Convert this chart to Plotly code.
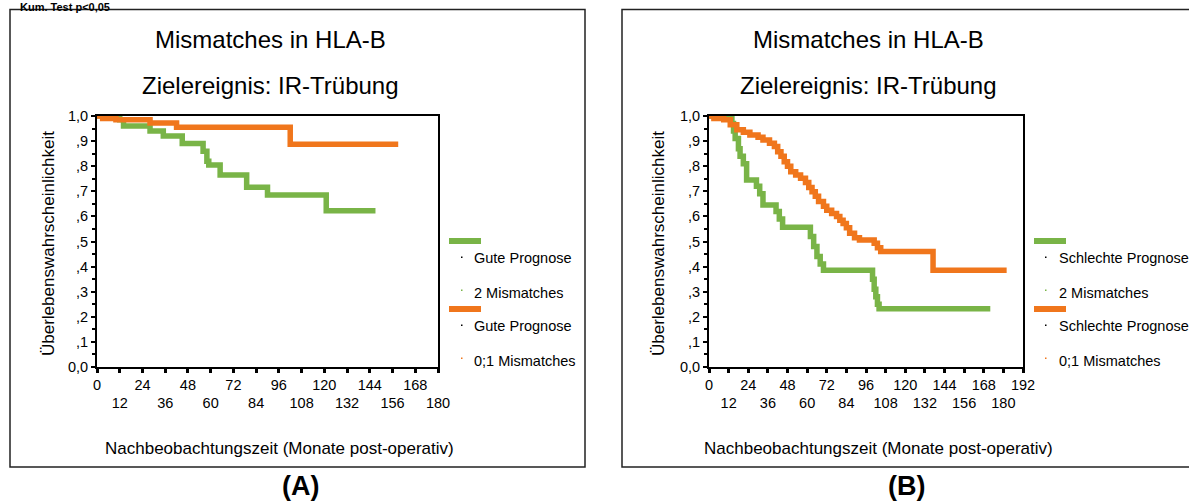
import plotly.graph_objects as go

# ---------------- data ----------------
# Panel A (Gute Prognose)
a_green_t = [0, 12, 14, 28, 35, 45, 56, 58, 59, 65, 79, 90, 121, 147]
a_green_s = [1.0, 0.985, 0.96, 0.94, 0.92, 0.89, 0.86, 0.82, 0.805, 0.765, 0.716, 0.685, 0.623, 0.623]
a_orange_t = [0, 3, 10, 28, 42, 102, 159]
a_orange_s = [1.0, 0.99, 0.985, 0.972, 0.955, 0.887, 0.887]

# Panel B (Schlechte Prognose)
b_green_t = [0, 14, 15, 16, 18, 19, 21, 23, 29, 31, 33, 41, 43, 45, 62, 64, 66, 68, 70, 100,
             101, 102, 103, 104, 172]
b_green_s = [1.0, 0.97, 0.94, 0.91, 0.87, 0.84, 0.81, 0.745, 0.72, 0.69, 0.645, 0.62, 0.59, 0.557,
             0.52, 0.48, 0.44, 0.41, 0.385, 0.35, 0.31, 0.28, 0.25, 0.232, 0.232]
b_orange_t = [0, 3, 9, 13, 17, 21, 25, 30, 33, 37, 40, 42, 44, 46, 48, 50, 53, 56, 59, 61,
              63, 65, 67, 70, 72, 75, 78, 80, 82, 84, 86, 89, 92, 101, 103, 105, 137, 182]
b_orange_s = [1.0, 0.99, 0.985, 0.965, 0.945, 0.935, 0.924, 0.915, 0.904, 0.891,
              0.878, 0.858, 0.84, 0.818, 0.80, 0.778, 0.765, 0.752, 0.735, 0.715,
              0.698, 0.68, 0.659, 0.64, 0.625, 0.612, 0.60, 0.585, 0.572, 0.555,
              0.533, 0.515, 0.506, 0.493, 0.475, 0.46, 0.385, 0.385]

a_ticks_top = [0, 24, 48, 72, 96, 120, 144, 168]
a_ticks_bottom = [12, 36, 60, 84, 108, 132, 156, 180]
b_ticks_top = [0, 24, 48, 72, 96, 120, 144, 168, 192]
b_ticks_bottom = [12, 36, 60, 84, 108, 132, 156, 180]
y_tickvals = [0, 0.1, 0.2, 0.3, 0.4, 0.5, 0.6, 0.7, 0.8, 0.9, 1.0]
y_ticktext = ["0,0", ",1", ",2", ",3", ",4", ",5", ",6", ",7", ",8", ",9", "1,0"]

heading = "Kum. Test p<0,05"
title1 = "Mismatches in HLA-B"
title2 = "Zielereignis: IR-Trübung"
x_title = "Nachbeobachtungszeit (Monate post-operativ)"
y_title = "Überlebenswahrscheinlichkeit"
a_legend = ["Gute Prognose", "2 Mismatches", "Gute Prognose", "0;1 Mismatches"]
b_legend = ["Schlechte Prognose", "2 Mismatches", "Schlechte Prognose", "0;1 Mismatches"]
panel_labels = ["(A)", "(B)"]

GREEN = "#79B447"
ORANGE = "#F0761C"
FONT = "Arial, Liberation Sans, sans-serif"

W, H = 1189, 504


def px(x):
    return x / W


def py(y):
    return 1 - y / H


fig = go.Figure()

for t, s, col, xa in [(a_green_t, a_green_s, GREEN, "x"), (a_orange_t, a_orange_s, ORANGE, "x"),
                      (b_green_t, b_green_s, GREEN, "x2"), (b_orange_t, b_orange_s, ORANGE, "x2")]:
    ya = "y" if xa == "x" else "y2"
    fig.add_trace(go.Scatter(x=t, y=s, mode="lines", line=dict(color=col, width=5.5, shape="hv"),
                             xaxis=xa, yaxis=ya, showlegend=False, hoverinfo="skip"))

# empty traces to bind the overlay axes (second row of x tick labels)
fig.add_trace(go.Scatter(x=[None], y=[None], xaxis="x3", yaxis="y", showlegend=False, hoverinfo="skip"))
fig.add_trace(go.Scatter(x=[None], y=[None], xaxis="x4", yaxis="y2", showlegend=False, hoverinfo="skip"))

tickfont = dict(family=FONT, size=14.5, color="black")


def xaxis_main(domain, rng, vals_top, vals_all, anchor):
    return dict(domain=domain, range=rng, anchor=anchor, automargin=False,
                tickmode="array", tickvals=vals_all,
                ticktext=[str(v) if v in vals_top else "" for v in vals_all],
                ticks="outside", ticklen=4, tickwidth=3, tickcolor="black",
                showline=True, linecolor="black", linewidth=2, mirror=True,
                showgrid=False, zeroline=False, tickfont=tickfont, fixedrange=True)


def xaxis_over(domain, rng, vals_bottom, over, anchor):
    return dict(domain=domain, range=rng, anchor=anchor, overlaying=over, side="bottom",
                automargin=False,
                tickmode="array", tickvals=vals_bottom, ticktext=[str(v) for v in vals_bottom],
                ticks="", showline=False, showgrid=False, zeroline=False,
                ticklabelstandoff=25, tickfont=tickfont, fixedrange=True)


def yaxis_main(domain, anchor):
    return dict(domain=domain, range=[0, 1], anchor=anchor, automargin=False,
                tickmode="array", tickvals=y_tickvals, ticktext=y_ticktext,
                ticks="outside", ticklen=4, tickwidth=2, tickcolor="black",
                minor=dict(dtick=0.05, tick0=0, ticks="outside", ticklen=3, tickwidth=1.5,
                           tickcolor="black"),
                showline=True, linecolor="black", linewidth=2, mirror=True,
                showgrid=False, zeroline=False, tickfont=tickfont, fixedrange=True)


a_all = sorted(a_ticks_top + a_ticks_bottom)
b_all = sorted(b_ticks_top + b_ticks_bottom)
ydom = [py(367), py(116)]

fig.update_layout(
    width=W, height=H, autosize=False,
    margin=dict(l=0, r=0, t=0, b=0, pad=0, autoexpand=False),
    paper_bgcolor="white", plot_bgcolor="white",
    showlegend=False,
    font=dict(family=FONT, color="black"),
    xaxis=xaxis_main([px(97), px(438)], [0, 180], a_ticks_top, a_all, "y"),
    xaxis3=xaxis_over([px(97), px(438)], [0, 180], a_ticks_bottom, "x", "y"),
    yaxis=yaxis_main(ydom, "x"),
    xaxis2=xaxis_main([px(709), px(1023)], [0, 192], b_ticks_top, b_all, "y2"),
    xaxis4=xaxis_over([px(709), px(1023)], [0, 192], b_ticks_bottom, "x2", "y2"),
    yaxis2=yaxis_main(ydom, "x2"),
)

shapes = []
# panel boxes (right box runs off the right edge, so no right border)
shapes.append(dict(type="rect", xref="paper", yref="paper", x0=px(10), x1=px(585), y0=py(467), y1=py(9.5),
                   line=dict(color="#222", width=1.5), fillcolor="rgba(0,0,0,0)", layer="below"))
shapes.append(dict(type="path", xref="paper", yref="paper",
                   path=f"M 1,{py(9.5)} L {px(622)},{py(9.5)} L {px(622)},{py(467)} L 1,{py(467)}",
                   line=dict(color="#222", width=1.5), layer="below"))

annotations = []


def text(x, y, s, size, xanchor="center", bold=False, angle=0):
    annotations.append(dict(xref="paper", yref="paper", x=px(x), y=py(y), text=(f"<b>{s}</b>" if bold else s),
                            showarrow=False, xanchor=xanchor, yanchor="middle", textangle=angle,
                            font=dict(family=FONT, size=size, color="black")))


# heading at the top (cut off in the original scan)
text(18, 7.5, heading, 11, xanchor="left", bold=True)

for cx, ytx, xtx, leg, sw_x0, dot_x, txt_x in [
        (270, 48, 279, a_legend, 449, 461, 472),
        (868, 658, 878, b_legend, 1034, 1045, 1057)]:
    text(cx, 40, title1, 24)
    text(cx, 85, title2, 24)
    text(xtx, 448, x_title, 17)
    text(ytx, 244, y_title, 17, angle=-90)
    # legend swatches
    shapes.append(dict(type="rect", xref="paper", yref="paper", x0=px(sw_x0), x1=px(sw_x0 + 32),
                       y0=py(244), y1=py(238), line=dict(width=0), fillcolor=GREEN))
    shapes.append(dict(type="rect", xref="paper", yref="paper", x0=px(sw_x0), x1=px(sw_x0 + 32),
                       y0=py(312), y1=py(306), line=dict(width=0), fillcolor=ORANGE))
    for yy, col in [(257, "black"), (290, GREEN), (325, "black"), (358, ORANGE)]:
        shapes.append(dict(type="rect", xref="paper", yref="paper", x0=px(dot_x), x1=px(dot_x + 1.5),
                           y0=py(yy + 1), y1=py(yy - 0.5), line=dict(width=0), fillcolor=col))
    for yy, s in zip([258, 293, 326, 361], leg):
        text(txt_x, yy, s, 14.5, xanchor="left")

text(300, 486, panel_labels[0], 27, bold=True)
text(906, 486, panel_labels[1], 27, bold=True)

fig.update_layout(shapes=shapes, annotations=annotations)
fig.write_html("out.html", config={"displayModeBar": False},
               post_script="document.body.style.margin='0';")
